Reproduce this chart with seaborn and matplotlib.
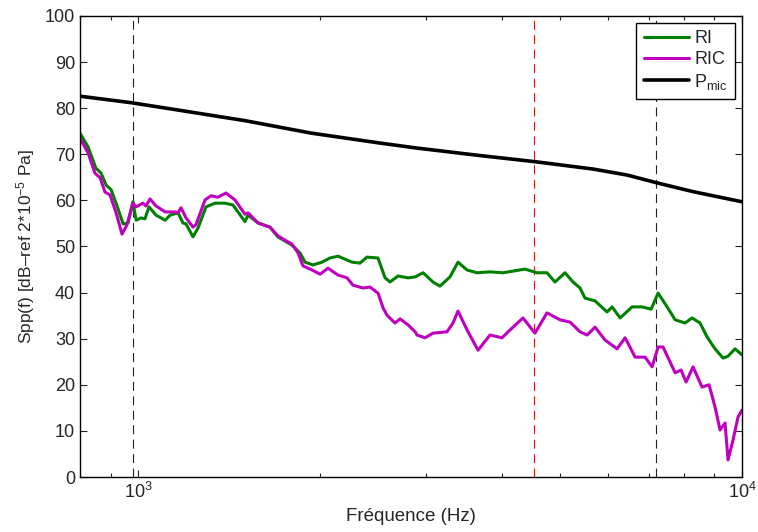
import numpy as np
import pandas as pd
import matplotlib
matplotlib.use('Agg')
import matplotlib.pyplot as plt
import matplotlib.ticker as mticker
import seaborn as sns

# Données (fréquence en Hz, niveau en dB)
f_ri = [800, 825, 850, 867, 884, 901, 918, 943, 961, 979, 991, 1010, 1025, 1041,
        1069, 1107, 1128, 1163, 1185, 1199, 1231, 1255, 1294, 1339, 1391, 1434, 1501,
        1519, 1578, 1651, 1702, 1796, 1852, 1888, 1946, 2014, 2076, 2141, 2259, 2328,
        2391, 2494, 2562, 2611, 2692, 2797, 2873, 2962, 3076, 3159, 3282, 3384, 3503,
        3639, 3823, 4018, 4369, 4574, 4752, 4899, 5090, 5248, 5390, 5495, 5709, 5976,
        6092, 6281, 6576, 6832, 7069, 7261, 7514, 7748, 8047, 8265, 8521, 8751, 9022,
        9303, 9481, 9737, 10000]
ri = [74.6, 71.6, 67.0, 65.9, 63.3, 62.3, 59.4, 54.9, 55.1, 59.7, 55.7, 56.2, 56.0, 58.6,
      56.8, 55.7, 56.8, 57.3, 55.1, 54.9, 52.1, 54.0, 58.6, 59.4, 59.4, 59.0, 55.4,
      56.8, 55.1, 54.2, 52.1, 50.3, 48.6, 46.6, 46.0, 46.6, 47.5, 47.9, 46.6, 46.4,
      47.7, 47.5, 43.2, 42.3, 43.6, 43.2, 43.4, 44.3, 42.3, 41.4, 43.4, 46.6, 44.9,
      44.3, 44.5, 44.3, 45.1, 44.3, 44.3, 42.3, 44.3, 42.3, 41.0, 38.8, 38.2, 35.8,
      36.9, 34.5, 36.9, 36.9, 36.4, 39.9, 36.9, 34.1, 33.4, 34.5, 33.4, 30.4, 27.8,
      25.8, 26.2, 27.8, 26.5]

f_ric = [800, 825, 847, 864, 880, 897, 918, 939, 957, 979, 991, 1017, 1029, 1045,
         1069, 1107, 1150, 1163, 1176, 1199, 1231, 1245, 1289, 1319, 1354, 1396, 1445,
         1501, 1519, 1578, 1651, 1702, 1796, 1838, 1873, 1939, 1999, 2061, 2141, 2216,
         2267, 2355, 2419, 2494, 2542, 2581, 2661, 2713, 2797, 2873, 2894, 2984, 3076,
         3245, 3320, 3384, 3503, 3653, 3823, 4002, 4127, 4336, 4539, 4752, 4994, 5189,
         5390, 5537, 5709, 5931, 6209, 6402, 6652, 6909, 7096, 7261, 7400, 7748, 7925,
         8078, 8297, 8586, 8818, 9022, 9197, 9374, 9481, 9663, 9849, 10000]
ric = [73.5, 70.3, 65.9, 64.9, 61.8, 61.2, 57.3, 52.7, 54.7, 59.4, 58.6, 59.4, 58.8, 60.3,
       58.8, 57.5, 57.5, 57.3, 58.4, 56.2, 54.2, 54.7, 60.1, 61.0, 60.7, 61.6, 60.1,
       57.0, 57.3, 55.1, 54.2, 52.3, 50.5, 48.6, 45.8, 44.9, 44.0, 45.3, 43.8, 43.2,
       41.6, 41.0, 41.2, 39.9, 36.7, 35.1, 33.4, 34.3, 33.0, 31.5, 30.8, 30.2, 31.2,
       31.5, 33.4, 36.0, 31.9, 27.5, 30.8, 30.2, 31.9, 34.5, 31.2, 35.6, 34.1, 33.6,
       31.5, 30.8, 32.5, 29.7, 27.8, 30.2, 26.0, 26.0, 23.9, 28.2, 28.2, 22.6, 23.2,
       20.6, 23.9, 19.5, 20.0, 15.2, 10.2, 11.7, 3.7, 8.0, 13.0, 14.5]

f_mic = [800, 972, 1163, 1501, 1932, 2494, 2873, 3639, 4539, 5666, 6451, 7232, 8297, 10000]
p_mic = [82.6, 81.2, 79.6, 77.3, 74.6, 72.5, 71.4, 69.8, 68.4, 66.8, 65.5, 63.8, 61.9, 59.7]

# fréquences des traits verticaux
f_marques = [981, 7200]
f_marque_rouge = 4530

sns.set_style('ticks')
plt.rcParams['font.family'] = ['Liberation Sans', 'DejaVu Sans']
plt.rcParams['mathtext.fontset'] = 'custom'
plt.rcParams['mathtext.rm'] = 'Liberation Sans'
plt.rcParams['mathtext.it'] = 'Liberation Sans:italic'
plt.rcParams['mathtext.bf'] = 'Liberation Sans:bold'

fig = plt.figure(figsize=(7.58, 5.32), dpi=100)
ax = fig.add_axes([80 / 758, 55 / 532, 662 / 758, 461 / 532])

for xv in f_marques:
    ax.axvline(xv, color='#222222', lw=0.8, dashes=(8, 5), zorder=1)
ax.axvline(f_marque_rouge, color='r', lw=0.8, dashes=(8, 5), zorder=1)

sns.lineplot(x=f_ri, y=ri, ax=ax, color='#008000', lw=2.2, label='RI',
             estimator=None, sort=False)
sns.lineplot(x=f_ric, y=ric, ax=ax, color='#bf00bf', lw=2.2, label='RIC',
             estimator=None, sort=False)
sns.lineplot(x=f_mic, y=p_mic, ax=ax, color='k', lw=2.6, label='P$_{\\mathrm{mic}}$',
             estimator=None, sort=False)

ax.set_xscale('log')
ax.set_xlim(800, 10000)
ax.set_ylim(0, 100)
ax.set_yticks(np.arange(0, 101, 10))
ax.xaxis.set_minor_formatter(mticker.NullFormatter())

ax.tick_params(which='both', direction='in', top=True, right=True, labelsize=13)
ax.tick_params(which='major', length=5, width=0.8)
ax.tick_params(which='minor', length=3, width=0.8)
for s in ax.spines.values():
    s.set_linewidth(1.0)
    s.set_color('k')

ax.set_xlabel('Fréquence (Hz)', fontsize=13.5)
ax.set_ylabel('Spp(f) [dB–ref 2*10$^{-5}$ Pa]', fontsize=12.5, labelpad=6)

leg = ax.legend(loc='upper right', fontsize=13, frameon=True, fancybox=False,
                framealpha=1, edgecolor='k', handlelength=2.5, labelspacing=0.2,
                borderaxespad=0.4, handletextpad=0.3)
leg.get_frame().set_linewidth(1.0)

fig.savefig('out.png', dpi=100)
